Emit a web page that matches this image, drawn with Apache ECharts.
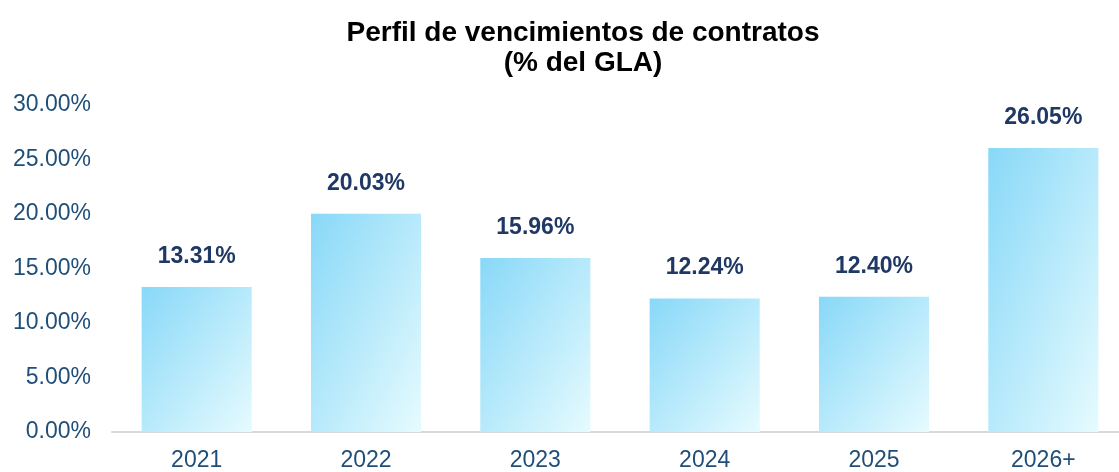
<!DOCTYPE html>
<html><head><meta charset="utf-8">
<script src="https://cdn.jsdelivr.net/npm/echarts@6/dist/echarts.min.js"></script>
<style>html,body{margin:0;padding:0;background:#fff;overflow:hidden}#c{width:1119px;height:472px}</style>
</head><body><div id="c"></div>
<script>
const categories = ['2021','2022','2023','2024','2025','2026+'];
const values = [13.31, 20.03, 15.96, 12.24, 12.40, 26.05];
const titleLines = ['Perfil de vencimientos de contratos', '(% del GLA)'];

const FONT = 'Liberation Sans, Arial, sans-serif';
const chart = echarts.init(document.getElementById('c'), null, {renderer:'canvas'});
function grad(x2, y2) {
  return new echarts.graphic.LinearGradient(0, 0, x2, y2, [
    {offset: 0, color: '#88d8f8'}, {offset: 1, color: '#e6fbfe'}]);
}
chart.setOption({
  animation: false,
  title: {
    text: titleLines.join('\n'),
    left: 578, top: 13, textAlign: 'center',
    textStyle: {fontFamily: FONT, fontWeight: 'bold', fontSize: 28, color: '#000', lineHeight: 30}
  },
  grid: {left: 112, width: 1016, top: 105, bottom: 40, containLabel: false, outerBoundsMode: 'none'},
  xAxis: {
    type: 'category', data: categories,
    axisLine: {lineStyle: {color: '#d9d9d9', width: 2}},
    axisTick: {show: false},
    axisLabel: {fontFamily: FONT, fontSize: 23, color: '#1f4e79', margin: 17}
  },
  yAxis: {
    type: 'value', min: 0, max: 30, interval: 5,
    splitLine: {show: false},
    axisLine: {show: false}, axisTick: {show: false},
    axisLabel: {fontFamily: FONT, fontSize: 23, color: '#1f4e79', margin: 21,
      formatter: v => v.toFixed(2) + '%'}
  },
  series: [{
    type: 'bar', data: values, barWidth: '65%',
    itemStyle: {color: grad(1, 1)},
    label: {show: true, position: 'top', distance: 19,
      fontFamily: FONT, fontWeight: 'bold', fontSize: 23, color: '#1f3864',
      formatter: p => p.value.toFixed(2) + '%'}
  }]
});
// shape-scaled diagonal gradient (like Office): iso-lines follow the bar's anti-diagonal
const y0 = chart.convertToPixel({yAxisIndex: 0}, 0);
const bandW = chart.getModel().getComponent('xAxis', 0).axis.getBandWidth();
const w = bandW * 0.65;
chart.setOption({series: [{data: values.map(v => {
  const h = Math.max(1, y0 - chart.convertToPixel({yAxisIndex: 0}, v));
  const d = h * h + w * w;
  return {value: v, itemStyle: {color: grad(2 * h * h / d, 2 * w * w / d)}};
})}]});
</script></body></html>
